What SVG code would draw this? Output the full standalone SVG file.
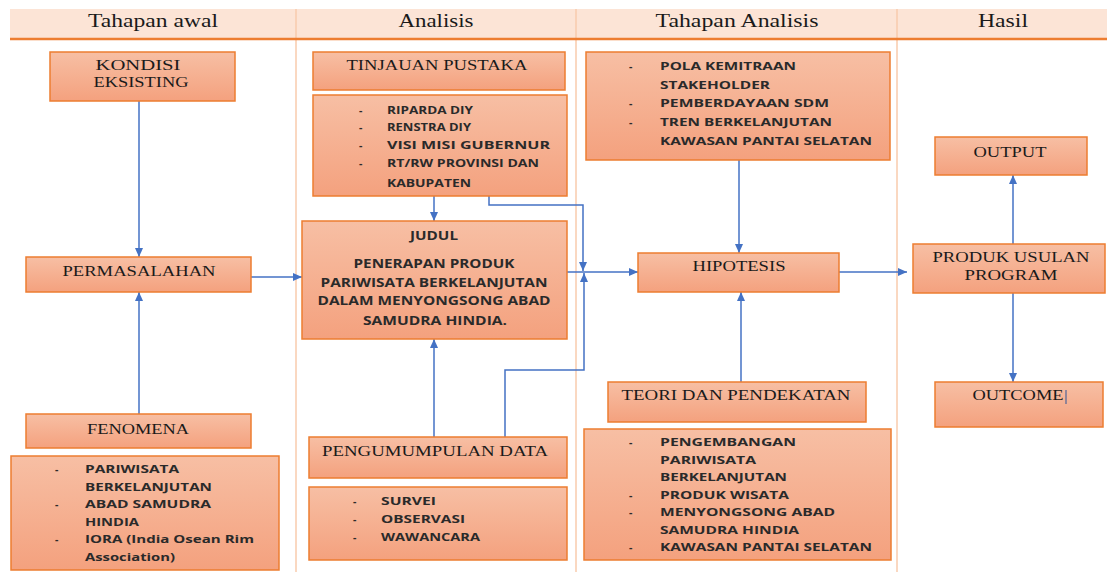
<svg xmlns="http://www.w3.org/2000/svg" width="1107" height="572" viewBox="0 0 1107 572">
<defs>
<linearGradient id="g" x1="0" y1="0" x2="0" y2="1">
<stop offset="0" stop-color="#F7BFA4"/>
<stop offset="1" stop-color="#F4A17E"/>
</linearGradient>
<marker id="ah" markerUnits="userSpaceOnUse" markerWidth="10" markerHeight="10" viewBox="0 0 10 10" refX="9" refY="5" orient="auto">
<path d="M0,1 L9,5 L0,9 Z" fill="#4472C4"/>
</marker>
<style>
.box{fill:url(#g);stroke:#ED7D31;stroke-width:1.5}
.hdr{font-family:"Liberation Serif","Times New Roman",serif;font-size:19px;fill:#1a1a1a;text-anchor:middle}
.ser{font-family:"Liberation Serif","Times New Roman",serif;font-size:14px;fill:#1a1a1a;text-anchor:middle}
.san{font-family:"Open Sans","Liberation Sans",sans-serif;font-weight:700;font-size:10.5px;fill:#2a2a2a}
.jud{font-family:"Open Sans","Liberation Sans",sans-serif;font-weight:700;font-size:12.5px;fill:#2a2a2a;text-anchor:middle}
.sep{stroke:#F8CBAD;stroke-width:1.5}
.con{fill:none;stroke:#4472C4;stroke-width:1.5}
.arr{marker-end:url(#ah)}
</style>
</defs>
<rect x="0" y="0" width="1107" height="572" fill="#FFFFFF"/>

<g id="header">
<rect x="10" y="9" width="1097" height="30" fill="#FCE4D6"/>
<line class="sep" x1="296" y1="9" x2="296" y2="572"/>
<line class="sep" x1="576" y1="9" x2="576" y2="572"/>
<line class="sep" x1="897" y1="9" x2="897" y2="572"/>
<line x1="10" y1="39" x2="1107" y2="39" stroke="#ED7D31" stroke-width="2.5"/>
<text class="hdr" x="153" y="26.5" textLength="130" lengthAdjust="spacingAndGlyphs">Tahapan awal</text>
<text class="hdr" x="436" y="26.5" textLength="75" lengthAdjust="spacingAndGlyphs">Analisis</text>
<text class="hdr" x="737" y="26.5" textLength="163" lengthAdjust="spacingAndGlyphs">Tahapan Analisis</text>
<text class="hdr" x="1003" y="26.5" textLength="50" lengthAdjust="spacingAndGlyphs">Hasil</text>
</g>

<g id="connectors">
<line class="con arr" x1="139" y1="101" x2="139" y2="257"/>
<line class="con arr" x1="139" y1="414" x2="139" y2="292"/>
<line class="con arr" x1="251" y1="277" x2="302" y2="277"/>
<line class="con arr" x1="434" y1="196" x2="434" y2="221"/>
<polyline class="con arr" points="489,196 489,205 583,205 583,271"/>
<line class="con arr" x1="434" y1="437" x2="434" y2="339"/>
<polyline class="con arr" points="505,437 505,370 584,370 584,273"/>
<line class="con arr" x1="567" y1="272" x2="638" y2="272"/>
<line class="con arr" x1="739" y1="160" x2="739" y2="253"/>
<line class="con arr" x1="741" y1="382" x2="741" y2="292"/>
<line class="con arr" x1="839" y1="272" x2="907" y2="272"/>
<line class="con arr" x1="1013" y1="244" x2="1013" y2="175"/>
<line class="con arr" x1="1013" y1="293" x2="1013" y2="382"/>
</g>

<g id="kondisi">
<rect class="box" x="50" y="52" width="185" height="49"/>
<text class="ser" x="138" y="69.5" textLength="85" lengthAdjust="spacingAndGlyphs">KONDISI</text>
<text class="ser" x="141" y="86.5" textLength="95" lengthAdjust="spacingAndGlyphs">EKSISTING</text>
</g>

<g id="permasalahan">
<rect class="box" x="26" y="257" width="225" height="35"/>
<text class="ser" x="139" y="275.5" textLength="153" lengthAdjust="spacingAndGlyphs">PERMASALAHAN</text>
</g>

<g id="fenomena">
<rect class="box" x="26" y="414" width="225" height="34"/>
<text class="ser" x="138" y="433.5" textLength="102" lengthAdjust="spacingAndGlyphs">FENOMENA</text>
</g>

<g id="fenomena-list">
<rect class="box" x="11" y="456" width="268" height="114"/>
<text class="san" x="55" y="473">-</text>
<text class="san" x="85" y="473" textLength="94" lengthAdjust="spacingAndGlyphs">PARIWISATA</text>
<text class="san" x="85" y="491" textLength="127" lengthAdjust="spacingAndGlyphs">BERKELANJUTAN</text>
<text class="san" x="55" y="508">-</text>
<text class="san" x="85" y="508" textLength="126" lengthAdjust="spacingAndGlyphs">ABAD SAMUDRA</text>
<text class="san" x="85" y="526" textLength="54" lengthAdjust="spacingAndGlyphs">HINDIA</text>
<text class="san" x="55" y="543">-</text>
<text class="san" x="85" y="543" textLength="169" lengthAdjust="spacingAndGlyphs">IORA (India Osean Rim</text>
<text class="san" x="85" y="561" textLength="90" lengthAdjust="spacingAndGlyphs">Association)</text>
</g>

<g id="tinjauan">
<rect class="box" x="313" y="52" width="252" height="38"/>
<text class="ser" x="437" y="69.5" textLength="181" lengthAdjust="spacingAndGlyphs">TINJAUAN PUSTAKA</text>
</g>

<g id="tinjauan-list">
<rect class="box" x="313" y="95" width="254" height="101"/>
<text class="san" x="359" y="114">-</text>
<text class="san" x="387" y="114" textLength="86" lengthAdjust="spacingAndGlyphs">RIPARDA DIY</text>
<text class="san" x="359" y="130.5">-</text>
<text class="san" x="387" y="130.5" textLength="84" lengthAdjust="spacingAndGlyphs">RENSTRA DIY</text>
<text class="san" x="359" y="149">-</text>
<text class="san" x="387" y="149" textLength="163" lengthAdjust="spacingAndGlyphs">VISI MISI GUBERNUR</text>
<text class="san" x="359" y="167">-</text>
<text class="san" x="387" y="167" textLength="152" lengthAdjust="spacingAndGlyphs">RT/RW PROVINSI DAN</text>
<text class="san" x="387" y="186.5" textLength="84" lengthAdjust="spacingAndGlyphs">KABUPATEN</text>
</g>

<g id="judul">
<rect class="box" x="302" y="221" width="265" height="118"/>
<text class="jud" x="434" y="239.5" textLength="48" lengthAdjust="spacingAndGlyphs">JUDUL</text>
<text class="jud" x="434" y="267.5" textLength="161" lengthAdjust="spacingAndGlyphs">PENERAPAN PRODUK</text>
<text class="jud" x="434" y="286.5" textLength="227" lengthAdjust="spacingAndGlyphs">PARIWISATA BERKELANJUTAN</text>
<text class="jud" x="434" y="305" textLength="233" lengthAdjust="spacingAndGlyphs">DALAM MENYONGSONG ABAD</text>
<text class="jud" x="435" y="324.5" textLength="144" lengthAdjust="spacingAndGlyphs">SAMUDRA HINDIA.</text>
</g>

<g id="pengumpulan">
<rect class="box" x="309" y="437" width="258" height="41"/>
<text class="ser" x="435" y="455.5" textLength="226" lengthAdjust="spacingAndGlyphs">PENGUMUMPULAN DATA</text>
</g>

<g id="pengumpulan-list">
<rect class="box" x="309" y="487" width="258" height="73"/>
<text class="san" x="353" y="505">-</text>
<text class="san" x="381" y="505" textLength="55" lengthAdjust="spacingAndGlyphs">SURVEI</text>
<text class="san" x="353" y="523">-</text>
<text class="san" x="381" y="523" textLength="84" lengthAdjust="spacingAndGlyphs">OBSERVASI</text>
<text class="san" x="353" y="541">-</text>
<text class="san" x="381" y="541" textLength="99" lengthAdjust="spacingAndGlyphs">WAWANCARA</text>
</g>

<g id="pola">
<rect class="box" x="586" y="52" width="304" height="108"/>
<text class="san" x="629" y="70">-</text>
<text class="san" x="660" y="70" textLength="136" lengthAdjust="spacingAndGlyphs">POLA KEMITRAAN</text>
<text class="san" x="660" y="89" textLength="110" lengthAdjust="spacingAndGlyphs">STAKEHOLDER</text>
<text class="san" x="629" y="107">-</text>
<text class="san" x="660" y="107" textLength="169" lengthAdjust="spacingAndGlyphs">PEMBERDAYAAN SDM</text>
<text class="san" x="629" y="126">-</text>
<text class="san" x="660" y="126" textLength="172" lengthAdjust="spacingAndGlyphs">TREN BERKELANJUTAN</text>
<text class="san" x="660" y="145" textLength="212" lengthAdjust="spacingAndGlyphs">KAWASAN PANTAI SELATAN</text>
</g>

<g id="hipotesis">
<rect class="box" x="638" y="253" width="201" height="39"/>
<text class="ser" x="739" y="270.5" textLength="93" lengthAdjust="spacingAndGlyphs">HIPOTESIS</text>
</g>

<g id="teori">
<rect class="box" x="608" y="382" width="258" height="40"/>
<text class="ser" x="736" y="399.5" textLength="229" lengthAdjust="spacingAndGlyphs">TEORI DAN PENDEKATAN</text>
</g>

<g id="teori-list">
<rect class="box" x="584" y="429" width="307" height="131"/>
<text class="san" x="629" y="446">-</text>
<text class="san" x="660" y="446" textLength="136" lengthAdjust="spacingAndGlyphs">PENGEMBANGAN</text>
<text class="san" x="660" y="464" textLength="96" lengthAdjust="spacingAndGlyphs">PARIWISATA</text>
<text class="san" x="660" y="481" textLength="127" lengthAdjust="spacingAndGlyphs">BERKELANJUTAN</text>
<text class="san" x="629" y="499">-</text>
<text class="san" x="660" y="499" textLength="129" lengthAdjust="spacingAndGlyphs">PRODUK WISATA</text>
<text class="san" x="629" y="516">-</text>
<text class="san" x="660" y="516" textLength="175" lengthAdjust="spacingAndGlyphs">MENYONGSONG ABAD</text>
<text class="san" x="660" y="534" textLength="139" lengthAdjust="spacingAndGlyphs">SAMUDRA HINDIA</text>
<text class="san" x="629" y="551">-</text>
<text class="san" x="660" y="551" textLength="212" lengthAdjust="spacingAndGlyphs">KAWASAN PANTAI SELATAN</text>
</g>

<g id="produk">
<rect class="box" x="913" y="244" width="192" height="49"/>
<text class="ser" x="1011" y="261.5" textLength="157" lengthAdjust="spacingAndGlyphs">PRODUK USULAN</text>
<text class="ser" x="1011" y="279.5" textLength="93" lengthAdjust="spacingAndGlyphs">PROGRAM</text>
</g>

<g id="output">
<rect class="box" x="935" y="137" width="152" height="38"/>
<text class="ser" x="1010" y="156.5" textLength="73" lengthAdjust="spacingAndGlyphs">OUTPUT</text>
</g>

<g id="outcome">
<rect class="box" x="935" y="382" width="168" height="45"/>
<text class="ser" x="1018" y="399.5" textLength="91" lengthAdjust="spacingAndGlyphs">OUTCOME</text>
<line x1="1066" y1="390" x2="1066" y2="404" stroke="#2F5597" stroke-width="1"/>
</g>
</svg>
